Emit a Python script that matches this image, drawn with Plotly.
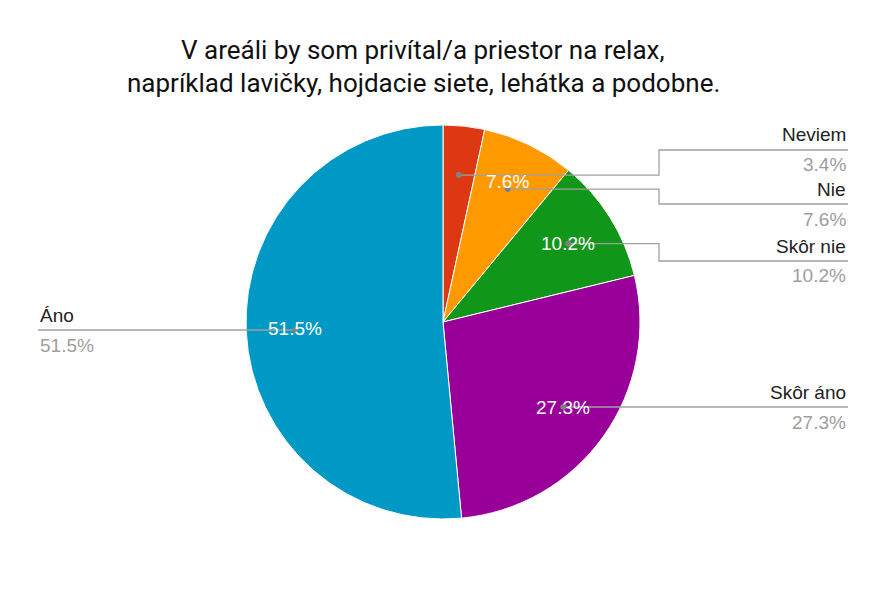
import math
import plotly.graph_objects as go

# ---- data ----
labels = ["Neviem", "Nie", "Skôr nie", "Skôr áno", "Áno"]
values = [3.4, 7.6, 10.2, 27.3, 51.5]
colors = ["#dc3912", "#ff9900", "#109618", "#990099", "#0099c6"]
title_lines = ["V areáli by som privítal/a priestor na relax,",
               "napríklad lavičky, hojdacie siete, lehátka a podobne."]

# ---- layout geometry (pixels in the screenshot; page has an 8px body margin) ----
W, H = 896, 594
OFF = 8
CX, CY, R = 443, 322, 197
DOT_R = 0.75
label_line_y = {"Neviem": 150, "Nie": 204, "Skôr nie": 261, "Skôr áno": 407, "Áno": 330}
inside_yshift = {"Nie": 8}
ELBOW_X = 659
RIGHT_X, LEFT_X = 848, 38
TITLE_X, TITLE_Y = 423, [50, 83]
LINE_COLOR = "#a0a0a0"
FONT = "Liberation Sans, Arial, sans-serif"
FS = 19


def px(x):
    return (x - OFF) / W


def py(y):
    return 1 - (y - OFF) / H


fig = go.Figure(go.Pie(
    labels=labels, values=values, sort=False, direction="clockwise", rotation=0,
    marker=dict(colors=colors, line=dict(color="white", width=1)),
    textinfo="none", showlegend=False, hoverinfo="label+percent",
    domain=dict(x=[px(CX - R), px(CX + R)], y=[py(CY + R), py(CY - R)]),
))

shapes, annotations = [], []
total = sum(values)
cum = 0.0
for lab, v in zip(labels, values):
    mid = (cum + v / 2) / total * 2 * math.pi
    cum += v
    dx, dy = CX + DOT_R * R * math.sin(mid), CY - DOT_R * R * math.cos(mid)
    ly = label_line_y[lab]
    pct = f"{v / total * 100:.1f}%"
    right = math.sin(mid) > 0
    if right:
        if abs(ly - dy) > 2:
            pts = [(dx, dy), (ELBOW_X, dy), (ELBOW_X, ly), (RIGHT_X, ly)]
        else:
            pts = [(dx, ly), (RIGHT_X, ly)]
        tx, anchor = RIGHT_X, "right"
    else:
        pts = [(dx, ly), (LEFT_X, ly)]
        tx, anchor = LEFT_X, "left"
    path = "M " + " L ".join(f"{px(a)},{py(b)}" for a, b in pts)
    shapes.append(dict(type="path", path=path, xref="paper", yref="paper",
                       line=dict(color=LINE_COLOR, width=1.3), layer="above"))
    d0 = pts[0]
    shapes.append(dict(type="circle", xref="paper", yref="paper",
                       x0=px(d0[0] - 3), x1=px(d0[0] + 3), y0=py(d0[1] + 3), y1=py(d0[1] - 3),
                       fillcolor="#808080", line=dict(width=0), layer="above"))
    annotations.append(dict(x=px(tx), y=py(ly - 15), xref="paper", yref="paper",
                            text=lab, showarrow=False, xanchor=anchor, yanchor="middle",
                            font=dict(family=FONT, size=FS, color="#222222")))
    annotations.append(dict(x=px(tx), y=py(ly + 15), xref="paper", yref="paper",
                            text=pct, showarrow=False, xanchor=anchor, yanchor="middle",
                            font=dict(family=FONT, size=FS, color="#9e9e9e")))
    if v / total >= 0.05:
        annotations.append(dict(x=px(dx), y=py(dy), xref="paper", yref="paper",
                                text=pct, showarrow=False, xanchor="center", yanchor="middle",
                                yshift=inside_yshift.get(lab, 0),
                                font=dict(family=FONT, size=FS, color="white")))

for line, ty in zip(title_lines, TITLE_Y):
    annotations.append(dict(x=px(TITLE_X), y=py(ty), xref="paper", yref="paper",
                            text=line, showarrow=False,
                            xanchor="center", yanchor="middle",
                            font=dict(family="Roboto, sans-serif", size=26, color="#111111")))

fig.update_layout(width=W, height=H, margin=dict(l=0, r=0, t=0, b=0),
                  paper_bgcolor="white", plot_bgcolor="white",
                  shapes=shapes, annotations=annotations)
fig.write_html("out.html")
